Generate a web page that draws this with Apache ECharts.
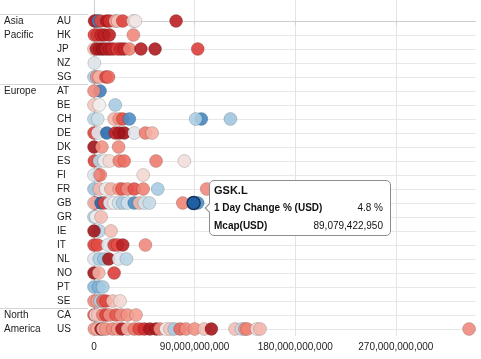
<!DOCTYPE html>
<html>
<head>
<meta charset="utf-8">
<script src="https://cdn.jsdelivr.net/npm/echarts@6/dist/echarts.min.js"></script>
<style>
html,body{margin:0;padding:0;background:#fff;}
#chart{width:481px;height:359px;}
</style>
</head>
<body>
<div id="chart"></div>
<script>
// ---- data ----
const countries = ['AU','HK','JP','NZ','SG','AT','BE','CH','DE','DK','ES','FI','FR','GB','GR','IE','IT','NL','NO','PT','SE','CA','US'];
const regionLabels = ['Asia','Pacific','Europe','North','America'];
const regionLabelRows = [0, 1, 5, 21, 22];
const regionBreaks = [-0.5, 4.5, 20.5];
const xTickValues = [0, 90e9, 180e9, 270e9];

// market cap in billions USD, one list per country (same order as countries)
const mcapBn = [
  [0.5, 2, 3.8, 6, 11.4, 14, 19, 21.2, 25.7, 35, 37, 73.4],
  [0.3, 3, 6.3, 9.2, 13.7, 35.2],
  [0, 2, 5, 8, 11, 14, 17, 21, 24, 27, 31.6, 42, 54.6, 92.8],
  [0.3],
  [0, 2.4, 4.7, 10.7, 13],
  [5.4, 0],
  [0, 4.7, 19],
  [0, 3.3, 18, 22.6, 25.7, 31.6, 96, 91, 122],
  [0, 3.3, 11.4, 19, 22.6, 27, 36, 46, 52],
  [0, 7, 22],
  [0.3, 4.7, 9.2, 13.7, 22.6, 27, 55.5, 80.8],
  [4, 0, 5.6, 44],
  [0, 4.7, 10.7, 15.2, 22.6, 25, 30, 36, 44, 57, 100.8],
  [1, 0, 6.3, 9.2, 14, 18, 22, 25.7, 30, 36, 40.5, 45, 49.5, 79.4, 92.8],
  [0, 1.8, 6.3],
  [4.7, 0, 15.2],
  [0, 3.3, 12.3, 18, 21.2, 25.7, 46],
  [0, 4.7, 9, 13.2, 22, 29],
  [0, 4.2, 18],
  [0, 4.2, 7.8],
  [0, 3, 5.4, 8, 10.7, 16.7, 23.3],
  [0, 1.5, 3.3, 8, 10.7, 14, 19.7, 24.2, 30, 37.6],
  [0.3, 3, 6.3, 8, 10.7, 16.7, 21.2, 25, 30, 36, 40.5, 45, 50, 55.5, 59, 64.4, 68, 71.8, 77, 82.3, 90, 98.7, 105, 126.2, 132, 135, 137, 145.5, 148.5, 335.5]
];
// 1 day change % (USD), same shape as mcapBn
const changePct = [
  [-4, -3.5, 3.5, -2.5, -4.2, -3, -0.9, -0.6, -2.5, -0.2, -0.1, -3.8],
  [-2.5, -2.8, -3.5, -3.8, -3.8, -1.3],
  [-0.6, -4, -4.2, -4.5, -3.8, -4, -3.5, -2.6, -3.2, -3.6, -1.4, -4, -4.2, -2.6],
  [0.4],
  [1.2, -1.3, -0.8, -2.5, -1.8],
  [3.6, -1.3],
  [-0.5, 0, 1.3],
  [1.0, 0.6, -0.7, -1.2, -2.2, 3.0, 3.3, 1.2, 1.4],
  [-2.5, 0.3, 4.3, -3.5, -4.2, -4.5, 0.3, -1.5, -0.8],
  [-4.5, -1.2, -1.3],
  [-2.5, 1, 0.1, -0.3, -1.5, -1.7, -1.5, -0.2],
  [-4.5, 0.4, -1.4, -0.3],
  [1.5, -0.7, 0.1, -0.8, -1, -2, -1.3, -2.2, -1.4, 1.3, -1.3],
  [-4.5, -0.7, 4.5, -2.5, 0.2, 0.1, 0.6, 1.3, 0.6, 3, -0.7, 0.5, 0.8, -1.4, 3],
  [1.2, 0, -0.6],
  [1, -4.5, -0.6],
  [-2.6, -2.3, 0.3, -2.6, -2.2, -3.8, -1.3],
  [0.3, 1.2, 1.5, -4.3, 0.3, 1],
  [-4.5, -0.8, -2.6],
  [1.8, 2.0, 1.3],
  [-1.3, -1.0, 1.2, -1.8, -2.4, -0.6, -0.3],
  [-2, -0.1, -0.6, -1.5, -2.5, -1.3, -2, -1.3, -1.2, -1.0],
  [-1.2, -0.8, -4.3, -0.7, -1.2, -1.3, -1.1, -4, -0.8, -1.6, -2.4, -3, -4.3, -4.3, -1.3, 0, -0.5, 1.3, -1.8, -1.3, -1.2, -0.6, -4.4, -0.6, 0.8, -1.3, -1.4, -0.3, -0.7, -1.3]
];
// highlighted company shown in the tooltip
const highlightName = 'GSK.L';
const highlightCountry = 'GB';
const highlightMcap = 89079422950;
const highlightChange = 4.8;

// ---- build series data ----
const points = [];
mcapBn.forEach((list, row) => {
  list.forEach((v, i) => {
    points.push([v * 1e9, row, changePct[row][i]]);
  });
});
const hlPoint = [{ name: highlightName, value: [highlightMcap, countries.indexOf(highlightCountry), highlightChange] }];

const FONT = 'Liberation Sans, Arial, sans-serif';
const fmtNum = v => Math.round(v).toLocaleString('en-US');

const chart = echarts.init(document.getElementById('chart'), null, { renderer: 'canvas' });
chart.setOption({
  animation: false,
  textStyle: { fontFamily: FONT },
  grid: { left: 88, right: 5, top: 0, bottom: 23, containLabel: false },
  xAxis: {
    type: 'value',
    min: -5.37e9,
    max: 341.7e9,
    axisLine: { show: true, lineStyle: { color: '#cfcfcf', width: 1 } },
    axisTick: { show: true, length: 4, customValues: xTickValues, lineStyle: { color: '#cfcfcf' } },
    axisLabel: { customValues: xTickValues, formatter: v => fmtNum(v), color: '#222', fontSize: 10, margin: 6, fontFamily: FONT },
    splitLine: { show: true, lineStyle: { color: '#e4e4e4', width: 1 } }
  },
  yAxis: [
    {
      type: 'value',
      inverse: true,
      min: -1.5,
      max: 22.5,
      position: 'left',
      axisLine: { show: true, lineStyle: { color: '#cfcfcf', width: 1 } },
      axisTick: { show: false, customValues: countries.map((c, i) => i) },
      axisLabel: {
        customValues: countries.map((c, i) => i),
        formatter: v => countries[Math.round(v)] || '',
        align: 'left', margin: 31, color: '#222', fontSize: 10, fontFamily: FONT
      },
      splitLine: { show: true, lineStyle: { color: '#e8e8e8', width: 1 } }
    },
    {
      type: 'value',
      inverse: true,
      min: -1.5,
      max: 22.5,
      position: 'left',
      axisLine: { show: false },
      axisTick: { show: true, inside: false, length: 88, customValues: regionBreaks, lineStyle: { color: '#d6d6d6', width: 1 } },
      axisLabel: {
        customValues: regionLabelRows,
        formatter: v => regionLabels[regionLabelRows.indexOf(Math.round(v))] || '',
        align: 'left', margin: 84, color: '#222', fontSize: 10, fontFamily: FONT
      },
      splitLine: { show: false }
    }
  ],
  visualMap: {
    show: false,
    type: 'continuous',
    dimension: 2,
    min: -5,
    max: 5,
    seriesIndex: [0, 1],
    inRange: {
      color: ['#8c0b12', '#b51d22', '#d42d2f', '#e8584d', '#f4a091', '#f2eeee', '#b8d5e6', '#7fb2d8', '#4d90c8', '#2f73b5', '#1b5a9f']
    }
  },
  tooltip: {
    trigger: 'item',
    position: 'right',
    alwaysShowContent: true,
    transitionDuration: 0,
    backgroundColor: '#ffffff',
    borderColor: '#8c8c8c',
    borderWidth: 1,
    padding: [0, 7, 0, 4],
    extraCssText: 'border-radius:5px;box-shadow:none;margin-top:5px;margin-left:-2px;',
    textStyle: { fontFamily: FONT, fontSize: 10, color: '#111' },
    formatter: p => {
      const v = p.value;
      return '<div style="width:169px;font-family:' + FONT + ';font-size:10px;color:#111;line-height:18px">' +
        '<div style="font-weight:bold;font-size:11px">' + p.name + '</div>' +
        '<div style="display:flex;justify-content:space-between"><b>1 Day Change % (USD)</b><span>' + v[2].toFixed(1) + ' %</span></div>' +
        '<div style="display:flex;justify-content:space-between"><b>Mcap(USD)</b><span>' + fmtNum(v[0]) + '</span></div>' +
        '</div>';
    }
  },
  series: [
    {
      type: 'scatter',
      xAxisIndex: 0,
      yAxisIndex: 0,
      symbolSize: 13,
      data: points,
      silent: true,
      itemStyle: { opacity: 0.9, borderColor: 'rgba(0,0,0,0.18)', borderWidth: 1 }
    },
    {
      type: 'scatter',
      xAxisIndex: 0,
      yAxisIndex: 0,
      symbolSize: 13,
      data: hlPoint,
      itemStyle: { opacity: 1, borderColor: '#16365f', borderWidth: 1.5 },
      emphasis: { disabled: true }
    }
  ]
});
chart.dispatchAction({ type: 'showTip', seriesIndex: 1, dataIndex: 0 });
</script>
</body>
</html>
